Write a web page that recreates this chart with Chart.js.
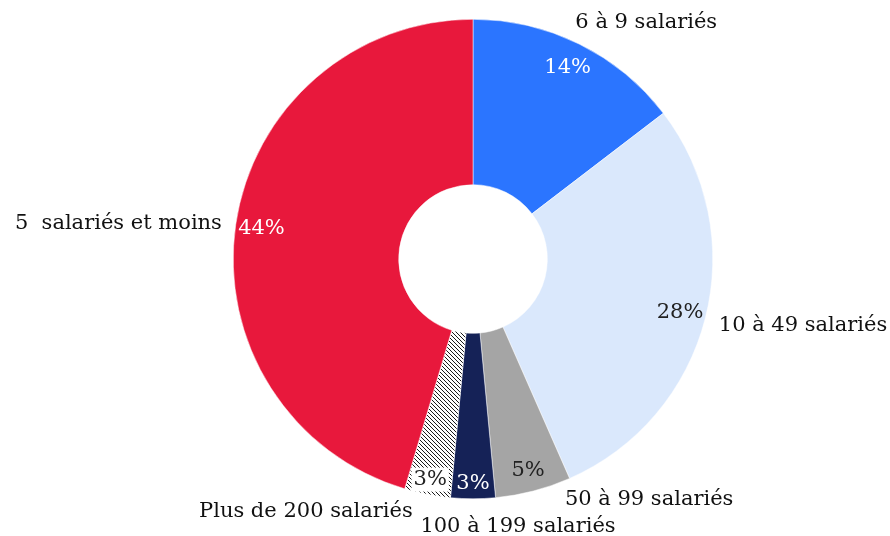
<!DOCTYPE html>
<html>
<head>
<meta charset="utf-8">
<script src="https://cdn.jsdelivr.net/npm/chart.js@4.4.0/dist/chart.umd.min.js"></script>
<style>
  html, body { margin: 0; padding: 0; background: #fff; }
  #wrap { width: 890px; height: 536px; }
</style>
</head>
<body>
<div id="wrap"><canvas id="chart" width="890" height="536"></canvas></div>
<script>
// données
const categories = ["6 à 9 salariés", "10 à 49 salariés", "50 à 99 salariés", "100 à 199 salariés", "Plus de 200 salariés", "5  salariés et moins"]
const values = [14.6, 28.8, 5.1, 3.0, 3.1, 45.4]
const pctLabels = ["14%", "28%", "5%", "3%", "3%", "44%"]

const FONT = '21px "DejaVu Serif"'

// motif hachuré pour "Plus de 200"
function hatchPattern() {
  const c = document.createElement("canvas")
  c.width = 4
  c.height = 4
  const g = c.getContext("2d")
  g.fillStyle = "#fff"
  g.fillRect(0, 0, 4, 4)
  g.strokeStyle = "#000"
  g.lineWidth = 0.9
  g.beginPath()
  g.moveTo(0, 0); g.lineTo(4, 4)
  g.moveTo(-1, 3); g.lineTo(1, 5)
  g.moveTo(3, -1); g.lineTo(5, 1)
  g.stroke()
  return g.createPattern(c, "repeat")
}

const ctx = document.getElementById("chart").getContext("2d")
const colors = ["#2B75FF", "#DAE8FC", "#A5A5A5", "#152257", hatchPattern(), "#E8183C"]
const pctColors = ["#fff", "#222", "#222", "#fff", "#222", "#fff"]

// étiquettes
const labelPlugin = {
  id: "labels",
  afterDatasetsDraw(chart) {
    const c = chart.ctx
    const arcs = chart.getDatasetMeta(0).data
    c.save()
    c.font = FONT
    c.textBaseline = "middle"
    arcs.forEach((arc, i) => {
      const mid = (arc.startAngle + arc.endAngle) / 2
      const r = arc.outerRadius
      // pourcentage
      let pr = r - 26
      if (i === 2) pr = r - 21
      if (i === 3 || i === 4) pr = r - 15
      const px = arc.x + Math.cos(mid) * pr
      const py = arc.y + Math.sin(mid) * pr
      c.textAlign = "center"
      if (i === 4) {
        const w = c.measureText(pctLabels[i]).width
        c.fillStyle = "#fff"
        c.fillRect(px - w / 2 - 2, py - 12, w + 4, 24)
      }
      c.fillStyle = pctColors[i]
      c.fillText(pctLabels[i], px, py)

      // catégorie
      let lx = arc.x + Math.cos(mid) * (r + 14)
      let ly = arc.y + Math.sin(mid) * (r + 14)
      let align = Math.cos(mid) >= 0 ? "left" : "right"
      if (i === 0) { lx -= 10; ly -= 9 }
      if (i === 1) { ly += 3 }
      if (i === 2) { lx += 28; ly -= 5 }
      if (i === 3) { align = "center"; lx += 45; ly += 14 }
      if (i === 4) { lx -= 12; ly += 3 }
      if (i === 5) { ly += 1 }
      c.textAlign = align
      c.fillStyle = "#111"
      c.fillText(categories[i], lx, ly)
    })
    c.restore()
  }
}

new Chart(ctx, {
  type: "doughnut",
  data: {
    labels: categories,
    datasets: [{
      data: values,
      backgroundColor: colors,
      borderColor: "#fff",
      borderWidth: 0.5
    }]
  },
  options: {
    responsive: false,
    animation: false,
    cutout: "31%",
    layout: { padding: { left: 233, right: 177, top: 19, bottom: 37 } },
    plugins: {
      legend: { display: false },
      tooltip: { enabled: false }
    }
  },
  plugins: [labelPlugin]
})
</script>
</body>
</html>
